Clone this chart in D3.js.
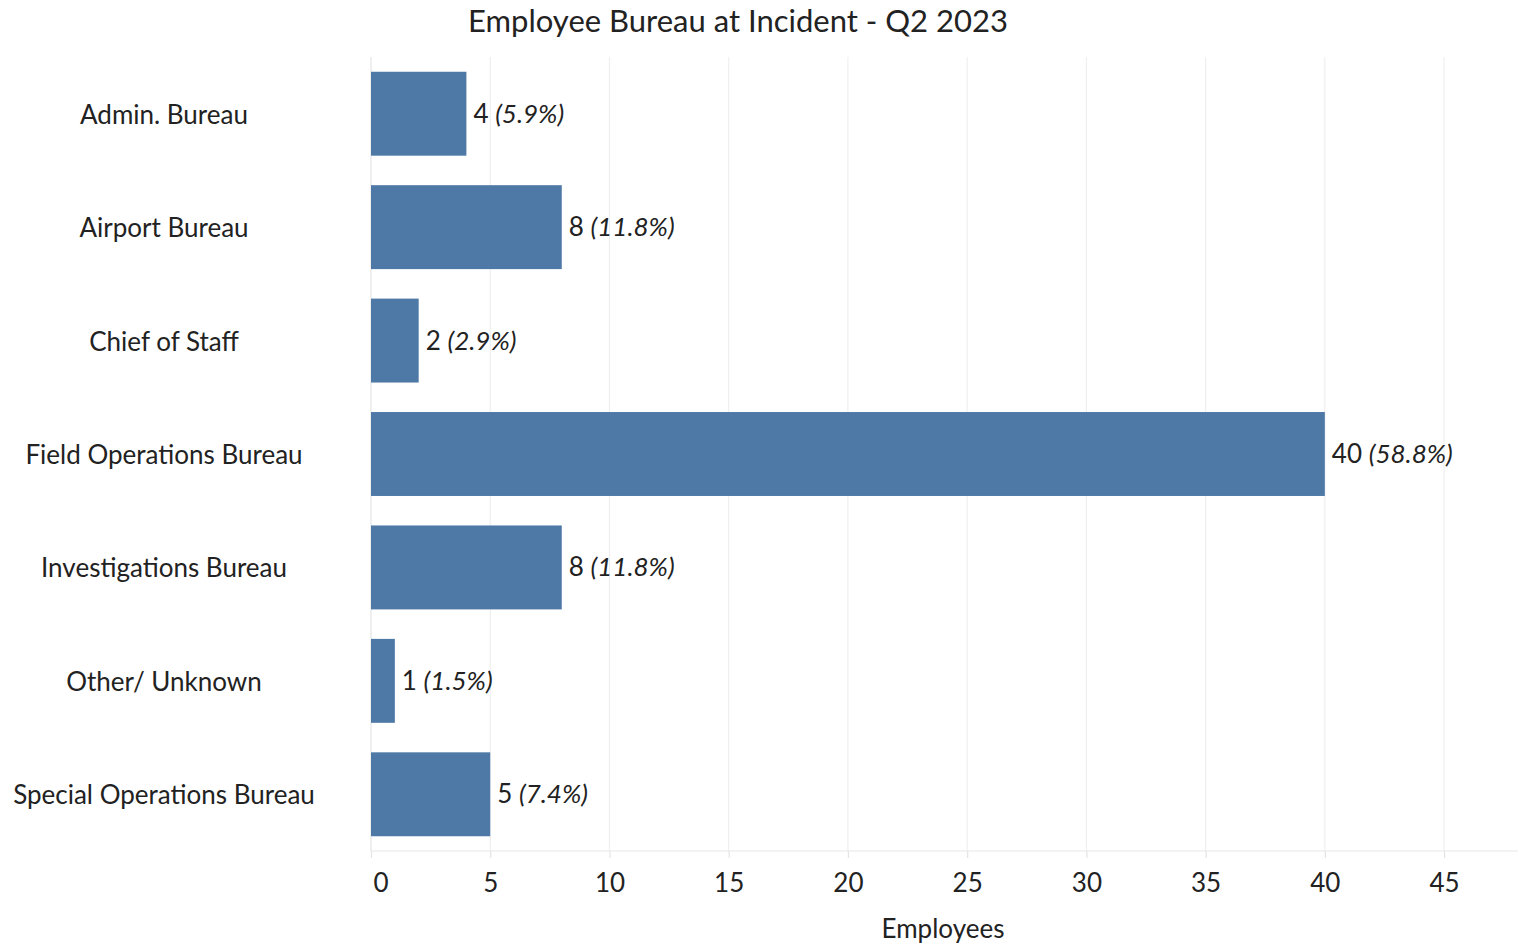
<!DOCTYPE html>
<html>
<head>
<meta charset="utf-8">
<script src="https://cdn.jsdelivr.net/npm/d3@7"></script>
<style>
  body { margin: 0; background: #fff; }
  svg text { font-family: Lato, "Open Sans", sans-serif; fill: #222; }
</style>
</head>
<body>
<svg id="chart" width="1518" height="947"></svg>
<script>
const categories = ["Admin. Bureau", "Airport Bureau", "Chief of Staff", "Field Operations Bureau",
  "Investigations Bureau", "Other/ Unknown", "Special Operations Bureau"];
const employees = [4, 8, 2, 40, 8, 1, 5];
const percentLabels = ["5.9%", "11.8%", "2.9%", "58.8%", "11.8%", "1.5%", "7.4%"];
const xTicks = [0, 5, 10, 15, 20, 25, 30, 35, 40, 45];

const svg = d3.select("#chart");
const margin = { top: 57, right: 0, bottom: 96, left: 371 };
const W = 1518, H = 947;

const x = d3.scaleLinear().domain([0, 48.1]).range([margin.left, W - margin.right]);
const y = d3.scaleBand().domain(categories).range([margin.top, H - margin.bottom]).paddingInner(0.26).paddingOuter(0.13);

// gridlines
svg.append("g").selectAll("line").data(xTicks).join("line")
  .attr("x1", d => x(d)).attr("x2", d => x(d))
  .attr("y1", margin.top).attr("y2", H - margin.bottom)
  .attr("stroke", d => d === 0 ? "#e4e4e4" : "#efefef").attr("stroke-width", 1.2);

// bottom axis line
svg.append("line").attr("x1", margin.left).attr("x2", W)
  .attr("y1", H - margin.bottom).attr("y2", H - margin.bottom)
  .attr("stroke", "#e8e8e8").attr("stroke-width", 1.2);

// bars
svg.append("g").selectAll("rect").data(categories).join("rect")
  .attr("x", x(0)).attr("y", d => y(d))
  .attr("width", (d, i) => x(employees[i]) - x(0))
  .attr("height", y.bandwidth())
  .attr("fill", "#4e79a7");

// bar value labels
const vl = svg.append("g").selectAll("text").data(categories).join("text")
  .attr("x", (d, i) => x(employees[i]) + 7)
  .attr("y", d => y(d) + y.bandwidth() / 2 + 9)
  .attr("font-size", 26);
vl.append("tspan").text((d, i) => employees[i] + " ");
vl.append("tspan").attr("font-style", "italic").text((d, i) => "(" + percentLabels[i] + ")");

// category labels
svg.append("g").selectAll("text").data(categories).join("text")
  .attr("x", 164).attr("y", d => y(d) + y.bandwidth() / 2 + 10)
  .attr("text-anchor", "middle").attr("font-size", 26)
  .text(d => d);

// x axis
const xAxis = d3.axisBottom(x).tickValues(xTicks).tickSize(7).tickPadding(16);
const ax = svg.append("g").attr("transform", `translate(0,${H - margin.bottom})`).call(xAxis);
ax.select(".domain").remove();
ax.selectAll(".tick line").attr("stroke", "#e4e4e4").attr("stroke-width", 1.2);
ax.selectAll(".tick text").attr("font-size", 26).attr("fill", "#222")
  .style("font-family", "Lato, 'Open Sans', sans-serif");
ax.selectAll(".tick text").filter(d => d === 0).attr("text-anchor", "start").attr("dx", 2);

// axis title
svg.append("text").attr("x", 943).attr("y", 938).attr("text-anchor", "middle")
  .attr("font-size", 26).text("Employees");

// chart title
svg.append("text").attr("x", 738).attr("y", 32).attr("text-anchor", "middle")
  .attr("font-size", 31).text("Employee Bureau at Incident - Q2 2023");
</script>
</body>
</html>
